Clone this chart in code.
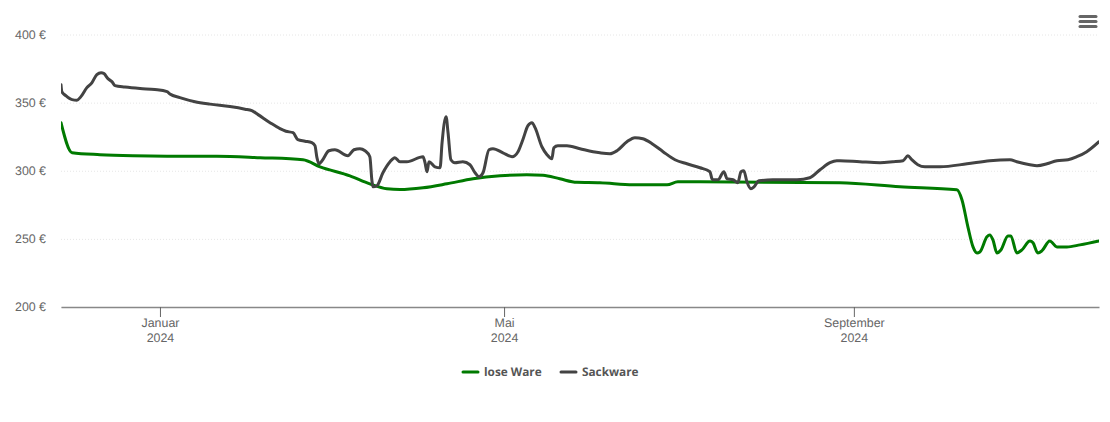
<!DOCTYPE html>
<html>
<head>
<meta charset="utf-8">
<script src="https://cdn.jsdelivr.net/npm/d3@7"></script>
<style>
  html, body { margin: 0; padding: 0; background: #fff; }
  svg { display: block; font-family: "Open Sans", sans-serif; text-rendering: geometricPrecision; }
  .yAxis path { display: none; }
  .yAxis line { stroke: #e6e6e6; stroke-dasharray: 1 2; }
  .yAxis text, .xAxis text { fill: #666; font-size: 12.4px; }
  .xAxis path { stroke: #888; stroke-width: 1.5; }
  .xAxis line { stroke: #666; }
  .legendText { fill: #555; font-size: 11.8px; font-weight: 700; }
</style>
</head>
<body>
<div id="chart"></div>
<script>
// D3 plot

var width = 1110;
var height = 422;

var margin = { top: 34.5, right: 11, bottom: 115, left: 61 };

// [days since 1 Jan 2024, price]
var loose = [
  [-34.8,335.3],[-30.9,313.2],[-21.1,311.8],[-9.5,311],[2.5,310.7],[20,310.7],[35.2,309.6],[50.3,308.1],
  [56.3,302.9],[66.8,296.3],[73.8,290.4],[79.8,286.8],[84.4,286.2],[92.5,287.5],[100.9,290.4],[110.1,294.1],
  [119.6,296.3],[129,297.1],[134.7,296.7],[140.6,294.1],[146.6,291.5],[154.7,291.2],[166.3,289.7],[178.3,289.7],
  [182.1,291.9],[189.9,291.9],[239.1,291.2],[260.2,288.2],[280.2,286],[282,278.7],[284.1,258.8],[285.9,244.1],
  [287.3,239.7],[288.3,240.4],[290.8,251.5],[291.8,252.9],[292.9,249.3],[294.3,239.7],[295.7,241.9],[298.2,252.2],
  [299.2,252.2],[301.3,239.7],[303.1,241.9],[305.9,248.5],[307,247.1],[308.7,239.7],[310.1,241.2],[312.9,248.5],
  [315.4,244.1],[318.9,244.1],[323.5,245.6],[330.2,248.5]
];

var bagged = [
  [-34.8,363.2],[-34.5,358],[-33.1,355.1],[-30.9,352.2],[-29.2,351.8],[-27.8,354.4],[-25.7,361],[-23.9,364.7],
  [-22.2,370.6],[-20.7,372],[-19.7,371.3],[-18.3,367.6],[-16.9,365.4],[-15.8,362.5],[-12.3,361.4],[-7,360.3],
  [-1.8,359.6],[2.5,358.1],[3.5,356.3],[7,353.7],[12.3,350.7],[17.6,348.9],[24.6,347.1],[29.9,345.2],
  [32.3,344.1],[34.5,341.2],[38.7,335.3],[42.2,330.9],[44.3,329],[46.8,327.9],[48.5,322.8],[51,321.7],
  [53.4,320.6],[54.5,318.4],[55.2,309.6],[55.9,305.1],[57,307.4],[59.4,314.7],[61.5,315.4],[66.1,311],
  [68.2,315.4],[70.3,316.2],[72.1,314.7],[73.8,310.3],[74.5,293.4],[74.9,288.2],[76.3,289],[78.4,298.5],
  [80.9,306.6],[82.6,309.6],[84.4,306.6],[86.8,306.6],[92.5,310.3],[93.2,305.9],[93.9,299.3],[94.6,306.6],
  [96.7,302.9],[98.5,302.2],[99.2,320.6],[100.6,339.7],[101.3,327.9],[102.3,308.1],[103.7,305.9],[106.5,306.6],
  [109,304.4],[110.8,298.5],[112.2,295.6],[113.6,298.5],[115.7,315.4],[117.1,316.2],[120.6,313.2],[123.8,310.3],
  [125.9,314],[127.6,322.8],[129.4,333.1],[130.8,335.3],[131.9,331.6],[134.3,317.6],[136.1,311.8],[137.8,308.8],
  [138.5,316.9],[139.9,318.4],[143.1,318.4],[147.7,316.2],[152.3,314],[154.7,313.2],[158.2,312.5],[160.7,314.7],
  [164.2,321.3],[167,324.3],[169.8,323.5],[173.3,319.5],[176.9,314],[181.1,308.1],[185.3,305.1],[189.9,302.2],
  [193.4,299.3],[194.1,294.1],[194.4,293.4],[196.2,293.4],[198.3,299.3],[199.4,294.1],[201.5,293.4],[203.2,291.2],
  [204.3,299.3],[205.3,300],[206.4,291.9],[207.8,286.8],[208.9,288.2],[210.6,292.6],[215.5,293.4],[224,293.4],
  [228.5,294.9],[232.1,300.7],[235.6,305.9],[238,307.4],[239.1,307.4],[246.1,306.6],[253.2,305.9],[257.7,306.6],
  [261.3,307.4],[263,311],[264.4,308.1],[266.5,304.4],[269,302.9],[274.3,302.9],[283.8,305.1],[291.8,307.4],
  [298.9,308.1],[301.3,306.6],[305.9,304.4],[308.4,303.7],[311.9,305.1],[315.4,307.4],[319.3,308.1],[322.4,310.3],
  [325.9,314],[330.2,321.3]
];

var series = [
  { name: "lose Ware", color: "#007a00", values: loose, legendX: 463 },
  { name: "Sackware", color: "#434343", values: bagged, legendX: 561 }
];

var start = new Date(2024, 0, 1);

function toDate(day) {
  return new Date(start.getTime() + day * 86400000);
}

var xScale = d3
  .scaleTime()
  .domain([toDate(-34.8), toDate(330.2)])
  .range([margin.left, width - margin.right]);

var yScale = d3
  .scaleLinear()
  .domain([200, 400])
  .range([height - margin.bottom, margin.top]);

var svg = d3
  .select("#chart")
  .append("svg")
  .attr("width", width)
  .attr("height", height);

// y axis, ticks stretched into the dotted grid
var yAxis = d3
  .axisLeft(yScale)
  .tickValues([200, 250, 300, 350, 400])
  .tickSize(-(width - margin.left - margin.right))
  .tickPadding(15)
  .tickFormat(function(d) { return d + " €"; });

svg
  .append("g")
  .attr("class", "yAxis")
  .attr("transform", "translate(" + margin.left + ", 0)")
  .call(yAxis);

// x axis
var monthNames = { 0: "Januar", 4: "Mai", 8: "September" };

var xAxis = d3
  .axisBottom(xScale)
  .tickValues([new Date(2024, 0, 1), new Date(2024, 4, 1), new Date(2024, 8, 1)])
  .tickSize(10)
  .tickSizeOuter(0)
  .tickFormat(function(d) { return monthNames[d.getMonth()]; });

var xGroup = svg
  .append("g")
  .attr("class", "xAxis")
  .attr("transform", "translate(0," + (height - margin.bottom) + ")")
  .call(xAxis);

xGroup.selectAll(".tick text").attr("y", 11);

xGroup
  .selectAll(".tick")
  .append("text")
  .attr("y", 26)
  .attr("dy", "0.71em")
  .text(function(d) { return d.getFullYear(); });

// lines
svg
  .append("defs")
  .append("clipPath")
  .attr("id", "plotClip")
  .append("rect")
  .attr("x", margin.left)
  .attr("y", 0)
  .attr("width", width - margin.left - margin.right)
  .attr("height", height);

var line = d3
  .line()
  .x(function(d) { return xScale(toDate(d[0])); })
  .y(function(d) { return yScale(d[1]); })
  .curve(d3.curveMonotoneX);

svg
  .append("g")
  .attr("clip-path", "url(#plotClip)")
  .selectAll("path")
  .data(series)
  .enter()
  .append("path")
  .attr("d", function(d) { return line(d.values); })
  .attr("fill", "none")
  .attr("stroke", function(d) { return d.color; })
  .attr("stroke-width", 3)
  .attr("stroke-linejoin", "round")
  .attr("stroke-linecap", "round");

// legend
var legend = svg
  .selectAll(".legendItem")
  .data(series)
  .enter()
  .append("g")
  .attr("class", "legendItem")
  .attr("transform", function(d) { return "translate(" + d.legendX + ", 372)"; });

legend
  .append("line")
  .attr("x1", 0)
  .attr("x2", 15)
  .attr("stroke", function(d) { return d.color; })
  .attr("stroke-width", 3)
  .attr("stroke-linecap", "round");

legend
  .append("text")
  .attr("class", "legendText")
  .attr("x", 21)
  .attr("dy", "0.35em")
  .text(function(d) { return d.name; });

// menu icon
svg
  .selectAll(".menuBar")
  .data([16.5, 21.5, 26.5])
  .enter()
  .append("line")
  .attr("class", "menuBar")
  .attr("x1", 1080)
  .attr("x2", 1096)
  .attr("y1", function(d) { return d; })
  .attr("y2", function(d) { return d; })
  .attr("stroke", "#666")
  .attr("stroke-width", 3)
  .attr("stroke-linecap", "round");
</script>
</body>
</html>
